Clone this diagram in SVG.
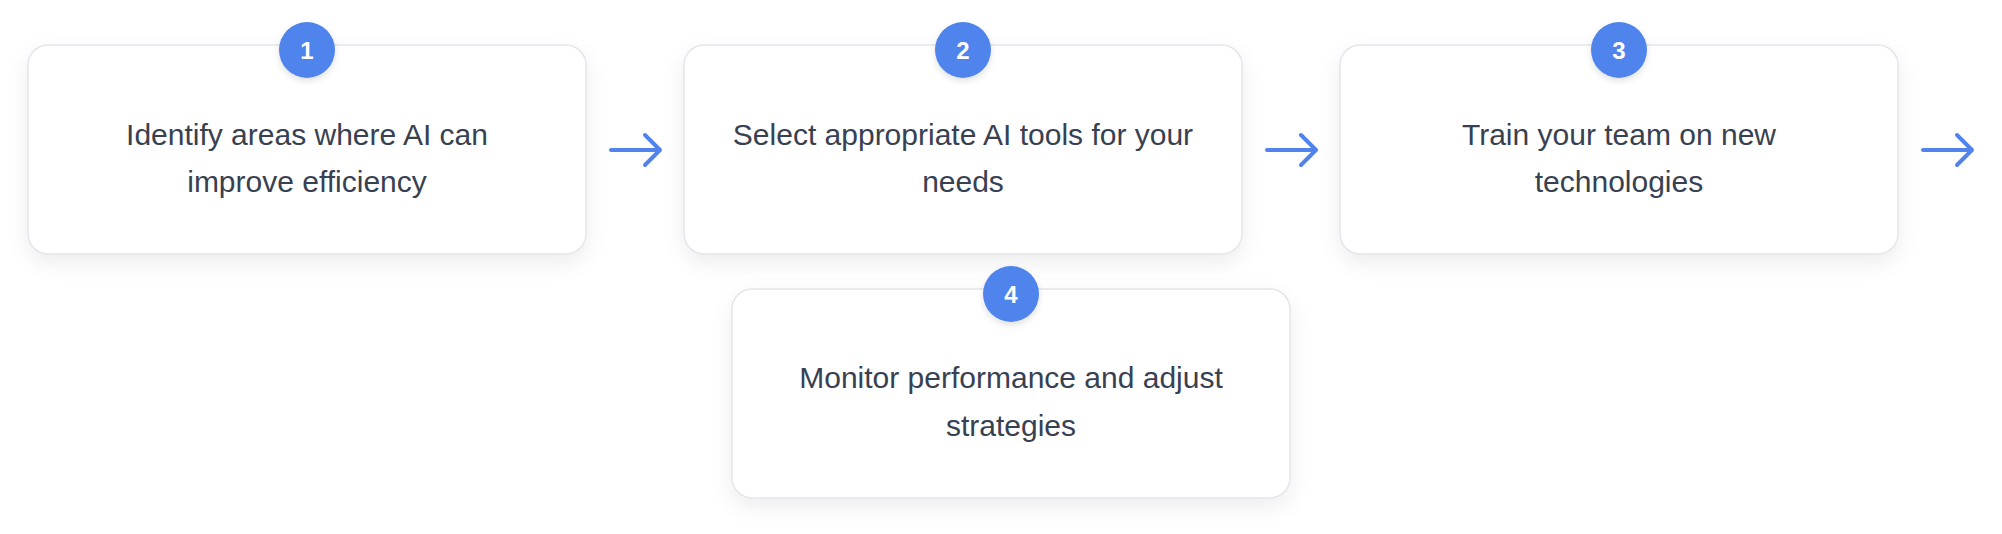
<svg xmlns="http://www.w3.org/2000/svg" width="2002" height="534" viewBox="0 0 2002 534">
  <defs>
    <filter id="boxShadow" x="-10%" y="-20%" width="120%" height="150%">
      <feDropShadow dx="0" dy="8" stdDeviation="10" flood-color="#000000" flood-opacity="0.07"/>
    </filter>
    <filter id="badgeShadow" x="-40%" y="-40%" width="180%" height="190%">
      <feDropShadow dx="0" dy="3" stdDeviation="3" flood-color="#000000" flood-opacity="0.12"/>
    </filter>
    <style>
      .box { fill: #ffffff; stroke: #e3e5ea; stroke-width: 1.5; }
      .badge { fill: #5084ec; }
      .num { font-family: "Liberation Sans", Arial, sans-serif; font-size: 24px; font-weight: bold; fill: #ffffff; text-anchor: middle; }
      .label { font-family: "Liberation Sans", Arial, sans-serif; font-size: 30px; fill: #374151; text-anchor: middle; }
      .arrow { fill: none; stroke: #5084ec; stroke-width: 4; stroke-linecap: round; stroke-linejoin: round; }
    </style>
  </defs>
  <rect width="2002" height="534" fill="#ffffff"/>

  <g id="connectors">
    <path class="arrow" d="M611 150 H660 M645 135 L660 150 L645 165"/>
    <path class="arrow" d="M1267 150 H1316 M1301 135 L1316 150 L1301 165"/>
    <path class="arrow" d="M1923 150 H1972 M1957 135 L1972 150 L1957 165"/>
  </g>

  <g id="node1">
    <rect class="box" x="28" y="45" width="558" height="209" rx="20" filter="url(#boxShadow)"/>
    <circle class="badge" cx="307" cy="50" r="28" filter="url(#badgeShadow)"/>
    <text class="num" x="307" y="58.5">1</text>
    <text class="label" x="307" y="144.5">Identify areas where AI can</text>
    <text class="label" x="307" y="192">improve efficiency</text>
  </g>

  <g id="node2">
    <rect class="box" x="684" y="45" width="558" height="209" rx="20" filter="url(#boxShadow)"/>
    <circle class="badge" cx="963" cy="50" r="28" filter="url(#badgeShadow)"/>
    <text class="num" x="963" y="58.5">2</text>
    <text class="label" x="963" y="144.5">Select appropriate AI tools for your</text>
    <text class="label" x="963" y="192">needs</text>
  </g>

  <g id="node3">
    <rect class="box" x="1340" y="45" width="558" height="209" rx="20" filter="url(#boxShadow)"/>
    <circle class="badge" cx="1619" cy="50" r="28" filter="url(#badgeShadow)"/>
    <text class="num" x="1619" y="58.5">3</text>
    <text class="label" x="1619" y="144.5">Train your team on new</text>
    <text class="label" x="1619" y="192">technologies</text>
  </g>

  <g id="node4">
    <rect class="box" x="732" y="289" width="558" height="209" rx="20" filter="url(#boxShadow)"/>
    <circle class="badge" cx="1011" cy="294" r="28" filter="url(#badgeShadow)"/>
    <text class="num" x="1011" y="302.5">4</text>
    <text class="label" x="1011" y="388">Monitor performance and adjust</text>
    <text class="label" x="1011" y="435.5">strategies</text>
  </g>
</svg>
